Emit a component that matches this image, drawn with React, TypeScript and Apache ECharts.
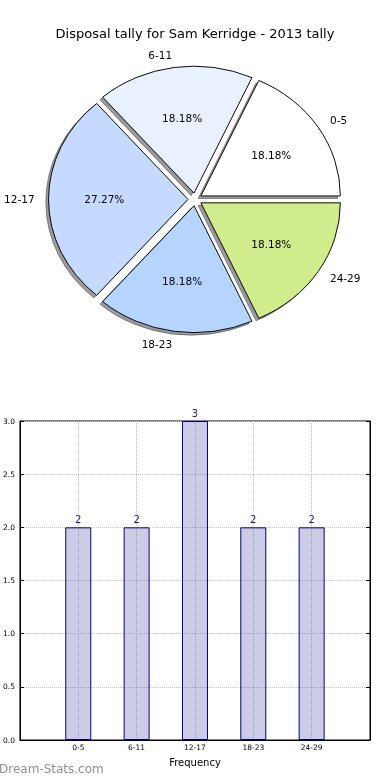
import React, { useEffect, useRef } from "react";
import * as echarts from "echarts";

const TITLE = "Disposal tally for Sam Kerridge - 2013 tally";
const CATEGORIES = ["0-5", "6-11", "12-17", "18-23", "24-29"];
const COUNTS = [2, 2, 3, 2, 2];
const PIE_COLORS = ["#ffffff", "#eaf1fe", "#c6d9ff", "#b5d5ff", "#d0ec8c"];
const Y_MIN = 0;
const Y_MAX = 3;
const Y_STEP = 0.5;
const X_LABEL = "Frequency";
const WATERMARK = "Dream-Stats.com";

const FONT = "DejaVu Sans";

export default function App() {
  const ref = useRef<HTMLDivElement>(null);
  useEffect(() => {
    const chart = echarts.init(ref.current!, null, { renderer: "svg" });
    const total = COUNTS.reduce((a, b) => a + b, 0);
    const CX = 195, CY = 199.4, RX = 139.5, RY = 127, EXP = 0.05;

    const renderPie = (params: any) => {
      const i = params.dataIndex;
      const before = COUNTS.slice(0, i).reduce((a, b) => a + b, 0);
      const a0 = (before / total) * 2 * Math.PI;
      const a1 = ((before + COUNTS[i]) / total) * 2 * Math.PI;
      const mid = (a0 + a1) / 2;
      const cos = Math.cos(mid), sin = Math.sin(mid);
      const ox = CX + EXP * RX * cos;
      const oy = CY - EXP * RY * sin;
      const pct = ((COUNTS[i] / total) * 100).toFixed(2) + "%";
      const shape = { cx: 0, cy: 0, r: RX, r0: 0, startAngle: -a1, endAngle: -a0, clockwise: true };
      const lx = 1.1 * RX * cos;
      return {
        type: "group",
        children: [
          {
            type: "sector",
            x: ox - 0.02 * RX,
            y: oy + 0.02 * RY,
            scaleY: RY / RX,
            shape,
            style: { fill: "rgba(55,55,60,0.5)", stroke: "rgba(55,55,60,0.5)", lineWidth: 1 },
            z2: 0,
          },
          {
            type: "sector",
            x: ox,
            y: oy,
            scaleY: RY / RX,
            shape,
            style: { fill: PIE_COLORS[i], stroke: "#000", lineWidth: 1 },
            z2: 10,
          },
          {
            type: "text",
            x: ox + 0.6 * RX * cos,
            y: oy - 0.6 * RY * sin,
            style: {
              text: pct,
              fill: "#000",
              fontSize: 10.5,
              fontFamily: FONT,
              align: "center",
              verticalAlign: "middle",
            },
            z2: 20,
          },
          {
            type: "text",
            x: ox + lx,
            y: oy - 1.1 * RY * sin,
            style: {
              text: CATEGORIES[i],
              fill: "#000",
              fontSize: 10.5,
              fontFamily: FONT,
              align: ox + lx > CX ? "left" : "right",
              verticalAlign: "middle",
            },
            z2: 20,
          },
        ],
      };
    };

    const gridLine = { color: "#c4c4c4", type: "dotted" as const, width: 1 };

    chart.setOption({
      animation: false,
      title: {
        text: TITLE,
        left: "center",
        top: 22,
        textStyle: { fontSize: 13, fontWeight: "normal", fontFamily: FONT, color: "#000" },
      },
      graphic: [
        {
          type: "text",
          left: -1,
          top: 763,
          style: { text: WATERMARK, fill: "#8f8f8f", fontSize: 12, fontFamily: FONT, fontWeight: "normal" },
        },
      ],
      grid: {
        left: 19,
        top: 421,
        width: 351,
        height: 319,
        show: true,
        borderColor: "#000",
        borderWidth: 1,
        backgroundColor: "transparent",
      },
      xAxis: {
        type: "category",
        data: ["", ...CATEGORIES, ""],
        boundaryGap: false,
        axisLine: { lineStyle: { color: "#000" } },
        axisTick: { show: false },
        axisLabel: { fontSize: 7.5, color: "#000", fontFamily: FONT, margin: 3, interval: 0 },
        splitLine: { show: true, interval: 0, lineStyle: gridLine },
        name: X_LABEL,
        nameLocation: "middle",
        nameGap: 17,
        nameTextStyle: { fontSize: 10, fontFamily: FONT, color: "#000" },
      },
      yAxis: [
        {
          type: "value",
          min: Y_MIN,
          max: Y_MAX,
          interval: Y_STEP,
          axisLine: { show: true, lineStyle: { color: "#000" } },
          axisTick: { show: true, inside: true, length: 4, lineStyle: { color: "#000" } },
          axisLabel: {
            formatter: (v: number) => v.toFixed(1),
            fontSize: 7.5,
            color: "#000",
            fontFamily: FONT,
            margin: 5,
          },
          splitLine: { show: true, lineStyle: gridLine },
        },
        {
          type: "value",
          position: "right",
          min: Y_MIN,
          max: Y_MAX,
          interval: Y_STEP,
          axisLine: { show: true, lineStyle: { color: "#000" } },
          axisTick: { show: true, inside: true, length: 4, lineStyle: { color: "#000" } },
          axisLabel: { show: false },
          splitLine: { show: false },
        },
      ],
      series: [
        {
          type: "bar",
          data: [null, ...COUNTS, null],
          barWidth: 26,
          itemStyle: { color: "rgba(0,0,128,0.2)", borderColor: "#000080", borderWidth: 1 },
          label: {
            show: true,
            position: "top",
            color: "#1a1a8c",
            fontSize: 10,
            fontFamily: FONT,
            distance: 3,
          },
        },
        {
          type: "custom",
          coordinateSystem: "none",
          renderItem: renderPie,
          data: COUNTS,
          silent: true,
        },
      ],
    });
    return () => chart.dispose();
  }, []);

  return (
    <div
      ref={ref}
      style={{ position: "fixed", left: 0, top: 0, width: 390, height: 780 }}
    />
  );
}
